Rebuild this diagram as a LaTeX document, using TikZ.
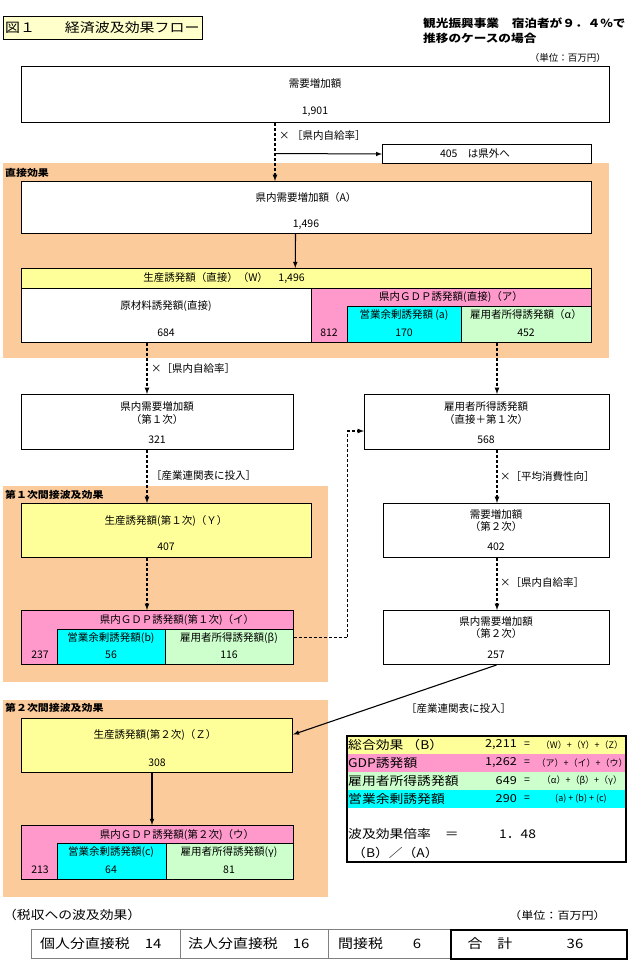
\documentclass[tikz,border=0pt]{standalone}
\usepackage{fontspec}
\setmainfont{Noto Sans CJK JP}
\newfontfamily\widefont[FakeStretch=1.15]{Noto Sans CJK JP}
\usepackage{tikz}
\tikzset{>=latex}
\definecolor{effectbg}{HTML}{FCCB9B}
\definecolor{paleyel}{HTML}{FFFF99}
\definecolor{titleyel}{HTML}{FFFFCC}
\definecolor{gdppink}{HTML}{FF99CC}
\definecolor{surpcyan}{HTML}{00FFFF}
\definecolor{wagegreen}{HTML}{CCFFCC}

\begin{document}
\begin{tikzpicture}[x=1pt, y=-1pt, font=\fontsize{10.5}{12}\selectfont,
  every node/.style={inner sep=0pt},
  band/.style={fill=effectbg, anchor=north west},
  box/.style={draw, line width=1pt, fill=white, anchor=north west},
  frame/.style={draw, line width=1pt, anchor=north west},
  cell/.style={draw, line width=0.5pt, anchor=north west},
  tag/.style={anchor=west, font=\widefont\bfseries\fontsize{9.5}{11}\selectfont},
  note/.style={anchor=west},
  flow/.style={->, densely dashed, line width=1.2pt},
  feed/.style={->, line width=1.1pt},
  sumlbl/.style={anchor=west, font=\widefont\fontsize{12}{14}\selectfont},
  sumval/.style={anchor=east, font=\widefont\fontsize{11}{13}\selectfont},
  sumfrm/.style={font=\fontsize{9}{10}\selectfont},
  taxcell/.style={draw=gray, line width=0.6pt, anchor=north west, minimum height=29},
  taxtxt/.style={anchor=west, font=\widefont\fontsize{13}{15}\selectfont}]

\useasboundingbox (0,0) rectangle (627,967);

\node[band, minimum width=606, minimum height=195] (direct) at (3,163) {};
\node[band, minimum width=325, minimum height=196] (first) at (3,486) {};
\node[band, minimum width=325, minimum height=197] (second) at (3,700) {};
\node[tag] (directlbl) at (5,173) {直接効果};
\node[tag] (firstlbl) at (5,495) {第１次間接波及効果};
\node[tag] (secondlbl) at (5,708) {第２次間接波及効果};

\node[draw, line width=1.2pt, fill=titleyel, anchor=north west, minimum width=199, minimum height=23] (title) at (3,16) {};
\node[anchor=west, font=\widefont\fontsize{13}{15}\selectfont] (titletxt) at (5,27.5) {図１　　経済波及効果フロー};
\node[anchor=north west, align=left, font=\widefont\bfseries\fontsize{11}{15}\selectfont] (case) at (423,18) {観光振興事業　宿泊者が９．４％で\\推移のケースの場合};
\node[anchor=east, font=\fontsize{9.5}{11}\selectfont] (unittop) at (606,58) {（単位：百万円）};

\node[box, minimum width=588, minimum height=56] (dem) at (21,66) {};
\node (demlbl) at (315,84) {需要増加額};
\node (demval) at (315,112) {1,901};

\node[box, minimum width=209, minimum height=19] (out) at (382,144) {};
\node (outlbl) at (475,153.5) {405　は県外へ};

\node[box, minimum width=570, minimum height=52] (dirA) at (21,181) {};
\node (dirAlbl) at (306,198) {県内需要増加額（A）};
\node (dirAval) at (306,225) {1,496};

\node[cell, fill=paleyel, minimum width=570, minimum height=20] (hdrW) at (21,268) {};
\node[cell, fill=white, minimum width=290, minimum height=54] (raw) at (21,288) {};
\node[cell, fill=gdppink, minimum width=280, minimum height=54] (gdp0) at (311,288) {};
\node[cell, fill=surpcyan, minimum width=114, minimum height=36] (cyan0) at (347,306) {};
\node[cell, fill=wagegreen, minimum width=130, minimum height=36] (green0) at (461,306) {};
\node[frame, minimum width=570, minimum height=74] (prodW) at (21,268) {};
\node (hdrWlbl) at (224,278) {生産誘発額（直接）（W）　1,496};
\node (rawlbl) at (166,306) {原材料誘発額(直接)};
\node (rawval) at (166,333) {684};
\node (gdp0lbl) at (451,297) {県内ＧＤＰ誘発額(直接)（ア）};
\node (gdp0val) at (329,333) {812};
\node (cyan0lbl) at (404,315) {営業余剰誘発額 (a)};
\node (cyan0val) at (404,333) {170};
\node (green0lbl) at (526,315) {雇用者所得誘発額（α）};
\node (green0val) at (526,333) {452};

\node[box, minimum width=272, minimum height=55] (d1) at (21,394) {};
\node (d1lbl) at (157,407) {県内需要増加額};
\node (d1sub) at (157,420) {（第１次）};
\node (d1val) at (157,440) {321};

\node[box, minimum width=245, minimum height=55] (emp) at (364,394) {};
\node (emplbl) at (486,407) {雇用者所得誘発額};
\node (empsub) at (486,420) {（直接＋第１次）};
\node (empval) at (486,440) {568};

\node[box, fill=paleyel, minimum width=290, minimum height=54] (Y) at (21,503) {};
\node (Ylbl) at (166,521) {生産誘発額(第１次)（Ｙ）};
\node (Yval) at (166,547) {407};

\node[box, minimum width=226, minimum height=54] (d2) at (383,503) {};
\node (d2lbl) at (496,515) {需要増加額};
\node (d2sub) at (496,527) {（第２次）};
\node (d2val) at (496,547) {402};

\node[cell, fill=gdppink, minimum width=272, minimum height=54] (gdp1) at (21,610) {};
\node[cell, fill=surpcyan, minimum width=108, minimum height=35] (cyan1) at (57,629) {};
\node[cell, fill=wagegreen, minimum width=128, minimum height=35] (green1) at (165,629) {};
\node[frame, minimum width=272, minimum height=54] (gdp1frame) at (21,610) {};
\node (gdp1lbl) at (177,620) {県内ＧＤＰ誘発額(第１次)（イ）};
\node (gdp1val) at (40,655) {237};
\node (cyan1lbl) at (111,638) {営業余剰誘発額(b)};
\node (cyan1val) at (111,655) {56};
\node (green1lbl) at (229,638) {雇用者所得誘発額(β)};
\node (green1val) at (229,655) {116};

\node[box, minimum width=226, minimum height=54] (rd2) at (383,610) {};
\node (rd2lbl) at (496,622) {県内需要増加額};
\node (rd2sub) at (496,634) {（第２次）};
\node (rd2val) at (496,655) {257};

\node[box, fill=paleyel, minimum width=271, minimum height=54] (Z) at (21,718) {};
\node (Zlbl) at (155,735) {生産誘発額(第２次)（Ｚ）};
\node (Zval) at (157,763) {308};

\node[cell, fill=gdppink, minimum width=272, minimum height=54] (gdp2) at (21,825) {};
\node[cell, fill=surpcyan, minimum width=109, minimum height=36] (cyan2) at (57,843) {};
\node[cell, fill=wagegreen, minimum width=127, minimum height=36] (green2) at (166,843) {};
\node[frame, minimum width=272, minimum height=54] (gdp2frame) at (21,825) {};
\node (gdp2lbl) at (177,835) {県内ＧＤＰ誘発額(第２次)（ウ）};
\node (gdp2val) at (40,870) {213};
\node (cyan2lbl) at (111,852) {営業余剰誘発額(c)};
\node (cyan2val) at (111,870) {64};
\node (green2lbl) at (229,852) {雇用者所得誘発額(γ)};
\node (green2val) at (229,870) {81};

\coordinate (split) at (275,153.5);
\coordinate (laneL) at (147,0);
\coordinate (laneR) at (497,0);
\coordinate (laneZ) at (152,0);

\draw[flow] (dem.south -| split) -- (dirA.north -| split);
\draw[->, line width=1pt] (split) -- (out.west);
\node[note] (rate0) at (279,136) {× ［県内自給率］};
\draw[feed] ([xshift=-11pt]dirA.south) -- ([xshift=-11pt]hdrW.north);

\draw[flow] (raw.south -| laneL) -- (d1.north -| laneL);
\node[note] (rate1) at (151,369) {×［県内自給率］};
\draw[flow] (green0.south -| laneR) -- (emp.north -| laneR);

\draw[flow] (d1.south -| laneL) -- (Y.north -| laneL);
\node[note] (io1) at (151,476) {［産業連関表に投入］};
\draw[flow] (Y.south -| laneL) -- (gdp1.north -| laneL);

\draw[flow] (emp.south -| laneR) -- (d2.north -| laneR);
\node[note] (cons) at (500,477) {×［平均消費性向］};
\draw[flow] (d2.south -| laneR) -- (rd2.north -| laneR);
\node[note] (rate2) at (500,583) {×［県内自給率］};

\draw[flow] ([yshift=9pt]green1.east) -- ++(54,0) |- ([yshift=-9pt]emp.west);

\draw[feed] (rd2.south) -- ([yshift=11pt]Z.east);
\node[note] (io2) at (406,708) {［産業連関表に投入］};
\draw[feed] (Z.south -| laneZ) -- (gdp2.north -| laneZ);

\node[anchor=north west, fill=paleyel, minimum width=279, minimum height=18] (rowB) at (346,736) {};
\node[anchor=north west, fill=gdppink, minimum width=279, minimum height=18] (rowG) at (346,754) {};
\node[anchor=north west, fill=wagegreen, minimum width=279, minimum height=18] (rowE) at (346,772) {};
\node[anchor=north west, fill=surpcyan, minimum width=279, minimum height=18] (rowS) at (346,790) {};
\node[draw, line width=2pt, anchor=north west, minimum width=279, minimum height=126] (summary) at (346,735) {};
\node[sumlbl] (lblB) at (348,745) {総合効果 （B）};
\node[sumval] (valB) at (517,745) {2,211};
\node (eqB) at (527,745) {=};
\node[sumfrm] (frmB) at (582,745) {（W）+（Y）+（Z）};
\node[sumlbl] (lblG) at (348,763) {GDP誘発額};
\node[sumval] (valG) at (517,763) {1,262};
\node (eqG) at (527,763) {=};
\node[sumfrm] (frmG) at (582,763) {（ア）+（イ）+（ウ）};
\node[sumlbl] (lblE) at (348,781) {雇用者所得誘発額};
\node[sumval] (valE) at (517,781) {649};
\node (eqE) at (527,781) {=};
\node[sumfrm] (frmE) at (582,781) {（α）+（β）+（γ）};
\node[sumlbl] (lblS) at (348,799) {営業余剰誘発額};
\node[sumval] (valS) at (517,799) {290};
\node (eqS) at (527,799) {=};
\node[font=\fontsize{9}{10}\selectfont] (frmS) at (581,799) {(a) + (b) + (c)};
\node[sumlbl] (ratiolbl) at (348,834) {波及効果倍率　＝};
\node[sumlbl] (ratioval) at (499,834) {1．48};
\node[sumlbl] (ratiodef) at (352,853) {（B）／（A）};

\node[anchor=west, font=\widefont\fontsize{12}{14}\selectfont] (taxtitle) at (3,915) {（税収への波及効果）};
\node[anchor=east, font=\widefont\fontsize{10.5}{12}\selectfont] (unitbot) at (606,915) {（単位：百万円）};
\node[taxcell, minimum width=149] (tax1) at (31,929) {};
\node[taxcell, minimum width=148] (tax2) at (180,929) {};
\node[taxcell, minimum width=122] (tax3) at (328,929) {};
\node[taxcell, draw=black, line width=1.5pt, minimum width=176] (taxsum) at (450,929) {};
\node[taxtxt] (tax1txt) at (40,943.5) {個人分直接税　14};
\node[taxtxt] (tax2txt) at (188,943.5) {法人分直接税　16};
\node[taxtxt] (tax3txt) at (338,943.5) {間接税　　6};
\node[font=\widefont\fontsize{13}{15}\selectfont] (sumlbltxt) at (490,943.5) {合　計};
\node[font=\widefont\fontsize{13}{15}\selectfont] (sumvaltxt) at (575,943.5) {36};

\end{tikzpicture}
\end{document}
